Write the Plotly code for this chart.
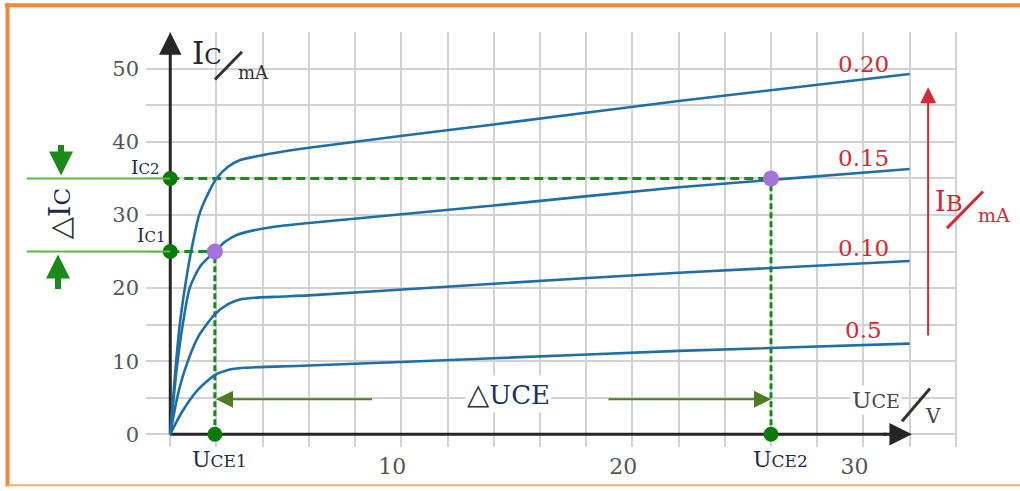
import numpy as np
import plotly.graph_objects as go

# ---------------- data ----------------
ib_labels = ["0.5", "0.10", "0.15", "0.20"]
uce_ib05 = [0, 0.48, 1.2, 1.93, 2.5, 3.2, 4.5, 6, 14, 22, 32]
ic_ib05 = [0, 2.9, 6.1, 8.1, 8.8, 9.1, 9.25, 9.4, 10.4, 11.4, 12.4]
uce_ib10 = [0, 0.3, 0.63, 1.2, 1.93, 2.5, 3.1, 4.5, 6, 14, 22, 32]
ic_ib10 = [0, 5, 8.8, 13.3, 16.4, 17.8, 18.5, 18.8, 19.0, 20.6, 22.1, 23.7]
uce_ib15 = [0, 0.27, 0.54, 0.84, 1.3, 1.93, 2.4, 2.9, 3.6, 4.5, 6, 14, 22, 32]
ic_ib15 = [0, 8.7, 15, 20, 23, 25, 26.4, 27.3, 27.9, 28.4, 28.9, 31.3, 33.8, 36.3]
uce_ib20 = [0, 0.22, 0.41, 0.63, 0.9, 1.25, 1.57, 2.0, 2.5, 3.0, 4.0, 6.0, 14, 22, 32]
ic_ib20 = [0, 8.7, 15, 20, 25, 30, 32.5, 35, 36.6, 37.5, 38.2, 39.2, 42.4, 45.6, 49.3]

x_tick_labels = [10, 20, 30]
y_tick_labels = [0, 10, 20, 30, 40, 50]
x_grid = list(range(0, 35, 2))
y_grid = list(range(0, 56, 5))

uce1, uce2 = 1.93, 26.0
ic1, ic2 = 25, 35
label_x = 30          # where the IB labels sit
delta_uce_y = 4.8     # height of the delta-UCE arrows
ib_arrow = (32.8, 13.3, 47.5)  # x, y bottom, y top of the IB arrow

# ---------------- layout geometry ----------------
W, H = 1020, 491
ML, MR, MT, MB = 146, 63, 32, 40
XR = [-1.05, 34.05]
YR = [-1.75, 55.05]


def pxx(p):
    return (p - ML) / (W - ML - MR)


def pxy(p):
    return 1 - (p - MT) / (H - MT - MB)


BLUE = "#1f6ea6"
GREEN = "#1b8a1b"
DOT_GREEN = "#0a7a0a"
PURPLE = "#a375d8"
RED = "#cf2a36"
DARK = "#262626"
NAVY = "#1e2a48"
SERIF = "DejaVu Serif"

fig = go.Figure()

# axes bodies
fig.add_trace(go.Scatter(x=[0, 0], y=[0, 52.5], mode="lines",
                         line=dict(color=DARK, width=3), hoverinfo="skip"))
fig.add_trace(go.Scatter(x=[0, 31], y=[0, 0], mode="lines",
                         line=dict(color=DARK, width=3), hoverinfo="skip"))

# guide dashed lines
fig.add_trace(go.Scatter(x=[0, uce2], y=[ic2, ic2], mode="lines",
                         line=dict(color=GREEN, width=3, dash="9px,5px")))
fig.add_trace(go.Scatter(x=[0, uce1], y=[ic1, ic1], mode="lines",
                         line=dict(color=GREEN, width=3, dash="9px,5px")))
fig.add_trace(go.Scatter(x=[uce1, uce1], y=[0, ic1], mode="lines",
                         line=dict(color=GREEN, width=3, dash="6px,3px")))
fig.add_trace(go.Scatter(x=[uce2, uce2], y=[0, ic2], mode="lines",
                         line=dict(color=GREEN, width=3, dash="6px,3px")))

# characteristic curves
curves = [(uce_ib05, ic_ib05), (uce_ib10, ic_ib10), (uce_ib15, ic_ib15), (uce_ib20, ic_ib20)]
for xs, ys in curves:
    fig.add_trace(go.Scatter(x=xs, y=ys, mode="lines",
                             line=dict(color=BLUE, width=2.6, shape="spline", smoothing=0.7),
                             hoverinfo="skip"))

# dots
fig.add_trace(go.Scatter(x=[0, 0, uce1, uce2], y=[ic2, ic1, 0, 0], mode="markers",
                         marker=dict(color=DOT_GREEN, size=15, line=dict(width=0))))
fig.add_trace(go.Scatter(x=[uce1, uce2], y=[ic1, ic2], mode="markers",
                         marker=dict(color=PURPLE, size=16, line=dict(width=0))))

ann = []
shapes = []


def arrow(x, y, ax, ay, color, width, size):
    ann.append(dict(x=x, y=y, ax=ax, ay=ay, text="", showarrow=True, arrowhead=2,
                    arrowcolor=color, arrowwidth=width, arrowsize=size, standoff=0,
                    xref="x", yref="y", axref="x", ayref="y"))


# axis arrowheads
arrow(0, 55, 0, 52, DARK, 3, 1.5)
arrow(32.1, 0, 30.8, 0, DARK, 3, 1.5)

# delta UCE arrows
arrow(uce1 + 0.05, delta_uce_y, 8.8, delta_uce_y, "#4d7c22", 2, 1.7)
arrow(uce2, delta_uce_y, 18.9, delta_uce_y, "#4d7c22", 2, 1.7)

# IB arrow
arrow(ib_arrow[0], ib_arrow[2], ib_arrow[0], ib_arrow[1], RED, 2, 1.6)

# IC level lines extending to the left margin
for lvl in (ic1, ic2):
    ann.append(dict(x=0, y=lvl, xref="x", yref="y", ax=-145, ay=0, text="",
                    showarrow=True, arrowhead=0, arrowcolor="#5fb83e", arrowwidth=2, standoff=0))

# green delta-IC arrows
ann.append(dict(x=pxx(61), y=ic2 + 0.4, xref="paper", yref="y", ax=0, ay=-32, text="",
                showarrow=True, arrowhead=2, arrowcolor=GREEN, arrowwidth=6, arrowsize=0.8, standoff=0))
ann.append(dict(x=pxx(58), y=ic1 - 0.4, xref="paper", yref="y", ax=0, ay=36, text="",
                showarrow=True, arrowhead=2, arrowcolor=GREEN, arrowwidth=6, arrowsize=0.8, standoff=0))


def label(text, x, y, size, color, ref="px", **kw):
    d = dict(text=text, showarrow=False, font=dict(family=SERIF, size=size, color=color),
             xanchor="center", yanchor="middle")
    if ref == "px":
        d.update(x=pxx(x), y=pxy(y), xref="paper", yref="paper")
    else:
        d.update(x=x, y=y, xref="x", yref="y")
    d.update(kw)
    ann.append(d)


# IB labels at curve ends
for lab, (xs, ys) in zip(ib_labels, curves):
    yv = float(np.interp(label_x, xs, ys))
    label(lab, label_x, yv, 23, RED, ref="data", yshift=15)

# Ic / mA axis title
label('I<span style="font-size:23px">C</span>', 207, 53, 31, DARK)
label("mA", 253, 73, 18, "#333333")
shapes.append(dict(type="line", xref="paper", yref="paper", x0=pxx(215), y0=pxy(80),
                   x1=pxx(242), y1=pxy(52), line=dict(color="#333333", width=3)))

# UCE / V axis title
label('U<span style="font-size:19px">CE</span>', 876, 404, 23, "#454558", bgcolor="white")
label("V", 933, 420, 20, "#444444")
shapes.append(dict(type="line", xref="paper", yref="paper", x0=pxx(902), y0=pxy(425),
                   x1=pxx(930), y1=pxy(392), line=dict(color="#333333", width=3)))

# IB / mA
label('I<span style="font-size:23px">B</span>', 949, 203, 27, RED)
label("mA", 994, 217, 19, RED)
shapes.append(dict(type="line", xref="paper", yref="paper", x0=pxx(947), y0=pxy(230),
                   x1=pxx(983), y1=pxy(193), line=dict(color=RED, width=3)))

# point labels
label('I<span style="font-size:15px">C2</span>', 145, 168, 19, NAVY)
label('I<span style="font-size:15px">C1</span>', 151, 237, 19, NAVY)
label('U<span style="font-size:17px">CE1</span>', 219, 464, 22, NAVY)
label('U<span style="font-size:17px">CE2</span>', 780, 464, 22, NAVY)

# delta labels
label('<span style="color:#333333;font-size:29px">△</span>UCE', 508, 397, 26, "#1c3060", bgcolor="white")
label('<span style="color:#333333">△</span>I<span style="font-size:23px">C</span>', 60, 216, 29, NAVY,
      textangle=-90)

# orange frame
shapes.append(dict(type="line", xref="paper", yref="paper", x0=pxx(5), y0=pxy(5), x1=pxx(1020), y1=pxy(5),
                   line=dict(color="#f5873a", width=4)))
shapes.append(dict(type="line", xref="paper", yref="paper", x0=pxx(7.5), y0=pxy(3), x1=pxx(7.5), y1=pxy(491),
                   line=dict(color="#f5873a", width=4)))
shapes.append(dict(type="line", xref="paper", yref="paper", x0=pxx(7), y0=pxy(489.5), x1=pxx(1020), y1=pxy(489.5),
                   line=dict(color="#f9ac74", width=2)))

fig.update_layout(
    width=W, height=H,
    margin=dict(l=ML, r=MR, t=MT, b=MB, pad=0),
    paper_bgcolor="white", plot_bgcolor="white",
    showlegend=False,
    annotations=ann, shapes=shapes,
)
fig.update_xaxes(range=XR, tickvals=x_grid,
                 ticktext=[str(v) if v in x_tick_labels else "" for v in x_grid],
                 showgrid=True, gridcolor="#d2d2d2", gridwidth=1.6, zeroline=False, showline=False,
                 ticks="", tickfont=dict(family=SERIF, size=22, color="#555555"),
                 ticklabelshift=-9, ticklabelstandoff=4, fixedrange=True)
fig.update_yaxes(range=YR, tickvals=y_grid,
                 ticktext=[str(v) if v in y_tick_labels else "" for v in y_grid],
                 showgrid=True, gridcolor="#d2d2d2", gridwidth=1.6, zeroline=False, showline=False,
                 ticks="", tickfont=dict(family=SERIF, size=21, color="#555555"),
                 ticklabelstandoff=6, fixedrange=True)

fig.write_html("out.html", config={"displayModeBar": False},
               post_script="document.body.style.margin='0';document.body.style.overflow='hidden';")
